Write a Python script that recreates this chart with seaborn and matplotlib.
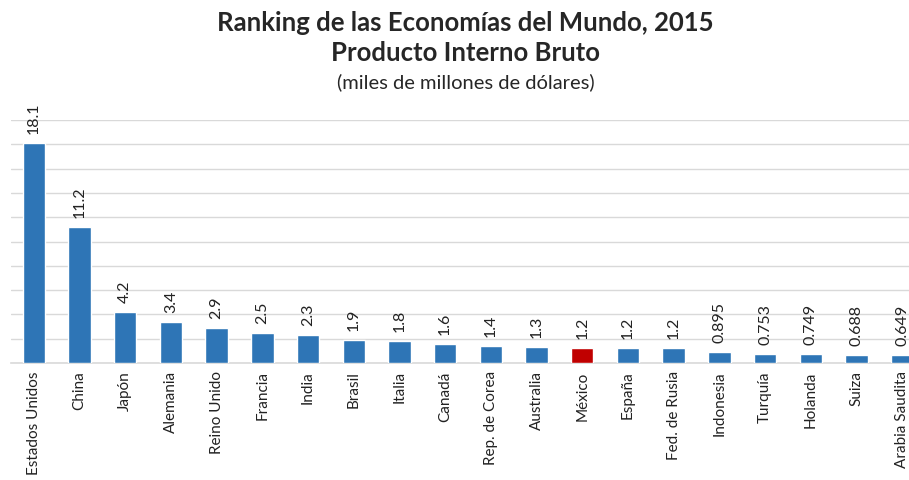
import matplotlib
matplotlib.use("Agg")
import matplotlib.pyplot as plt
import seaborn as sns
import pandas as pd

# Datos: PIB 2015 (miles de millones de dolares)
paises = ['Estados Unidos', 'China', 'Japón', 'Alemania', 'Reino Unido',
          'Francia', 'India', 'Brasil', 'Italia', 'Canadá', 'Rep. de Corea',
          'Australia', 'México', 'España', 'Fed. de Rusia', 'Indonesia',
          'Turquía', 'Holanda', 'Suiza', 'Arabia Saudita']
pib = [18.1, 11.2, 4.2, 3.4, 2.9, 2.5, 2.3, 1.9, 1.8, 1.6, 1.4, 1.3,
       1.2, 1.2, 1.2, 0.895, 0.753, 0.749, 0.688, 0.649]
etiquetas = ['18.1', '11.2', '4.2', '3.4', '2.9', '2.5', '2.3', '1.9', '1.8',
             '1.6', '1.4', '1.3', '1.2', '1.2', '1.2', '0.895', '0.753',
             '0.749', '0.688', '0.649']
destacado = 'México'

df = pd.DataFrame({'pais': paises, 'pib': pib})
colores = {p: ('#C00000' if p == destacado else '#2E75B6') for p in paises}

sns.set_style('white')
plt.rcParams['font.family'] = ['Lato', 'DejaVu Sans']

fig = plt.figure(figsize=(9.09, 4.8), dpi=100)
ax = fig.add_axes([11 / 909, 117 / 480, 914 / 909, 243 / 480])

sns.barplot(data=df, x='pais', y='pib', hue='pais', palette=colores,
            saturation=1, width=0.49, legend=False, ax=ax, zorder=3)

ax.set_ylim(0, 20)
ax.set_xlim(-0.5, len(paises) - 0.5)
ax.set_yticks(range(0, 21, 2))
ax.set_yticklabels([])
ax.tick_params(axis='both', length=0)
ax.tick_params(axis='x', pad=6)
ax.grid(axis='y', color='#D9D9D9', linewidth=1, zorder=0)
ax.set_xlabel('')
ax.set_ylabel('')
for s in ['top', 'right', 'left']:
    ax.spines[s].set_visible(False)
ax.spines['bottom'].set_color('#D9D9D9')
ax.spines['bottom'].set_linewidth(1.2)

ax.set_xticks(range(len(paises)))
ax.set_xticklabels(paises, rotation=90, fontsize=11, color='#222222')

for i, (v, t) in enumerate(zip(pib, etiquetas)):
    ax.annotate(t, (i, v), xytext=(0, 6.5), textcoords='offset points',
                rotation=90, ha='center', va='bottom', fontsize=11.5,
                color='#222222', annotation_clip=False)

fig.text(0.512, 0.952, 'Ranking de las Economías del Mundo, 2015',
         ha='center', va='center', fontsize=18.5, fontweight='bold')
fig.text(0.512, 0.89, 'Producto Interno Bruto',
         ha='center', va='center', fontsize=18.5, fontweight='bold')
fig.text(0.512, 0.828, '(miles de millones de dólares)',
         ha='center', va='center', fontsize=14.5)

plt.savefig('out.png', dpi=100)
